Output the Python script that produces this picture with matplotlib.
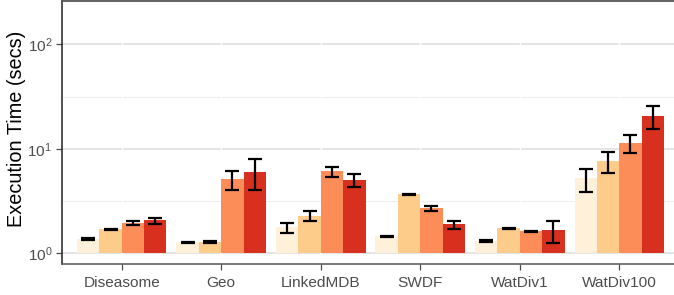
import matplotlib
matplotlib.use("Agg")
import matplotlib.pyplot as plt
import numpy as np

plt.rcParams['font.family'] = ['Liberation Sans', 'DejaVu Sans']
plt.rcParams['mathtext.fontset'] = 'custom'
plt.rcParams['mathtext.rm'] = 'Liberation Sans'
plt.rcParams['mathtext.it'] = 'Liberation Sans'

categories = ["Diseasome", "Geo", "LinkedMDB", "SWDF", "WatDiv1", "WatDiv100"]
series_names = ["s1", "s2", "s3", "s4"]
colors = ["#FEF0D9", "#FDCC8A", "#FC8D59", "#D7301F"]

# mean values per series (one value per category)
means = [
    [1.36, 1.27, 1.76, 1.45, 1.30, 5.22],
    [1.69, 1.28, 2.26, 3.67, 1.73, 7.59],
    [1.94, 5.11, 6.09, 2.70, 1.62, 11.3],
    [2.07, 5.96, 5.00, 1.90, 1.66, 20.5],
]
lows = [
    [1.33, 1.25, 1.57, 1.42, 1.28, 3.89],
    [1.67, 1.24, 2.01, 3.63, 1.71, 5.87],
    [1.87, 4.01, 5.34, 2.54, 1.60, 9.12],
    [1.91, 4.01, 4.31, 1.70, 1.24, 15.3],
]
highs = [
    [1.38, 1.29, 1.92, 1.47, 1.32, 6.41],
    [1.71, 1.31, 2.51, 3.70, 1.75, 9.26],
    [2.01, 6.18, 6.65, 2.80, 1.64, 13.5],
    [2.18, 7.94, 5.74, 2.04, 2.04, 25.7],
]
ytick_vals = [1, 10, 100]
ytick_labels = [r"$\mathregular{10^{0}}$", r"$\mathregular{10^{1}}$", r"$\mathregular{10^{2}}$"]

W, H = 674, 295
fig = plt.figure(figsize=(W / 100, H / 100), dpi=100)
ax = fig.add_axes([62 / W, 1 - 264 / H, 617 / W, 263.5 / H])

x = np.arange(1, len(categories) + 1)
bw = 0.225
for i in range(4):
    xi = x + (i - 1.5) * bw
    m = np.array(means[i])
    ax.bar(xi, m - 1, bottom=1, width=bw, color=colors[i], zorder=3, linewidth=0)
    ax.errorbar(xi, m, yerr=[m - np.array(lows[i]), np.array(highs[i]) - m],
                fmt='none', ecolor='black', elinewidth=1.6, capsize=5, capthick=1.6, zorder=4)

ax.set_yscale('log')
ax.set_ylim(10 ** (-0.105), 10 ** 2.421)
ax.set_xlim(0.4, 6.6)

ax.set_yticks(ytick_vals)
ax.set_yticklabels(ytick_labels)
ax.yaxis.set_minor_locator(matplotlib.ticker.NullLocator())
ax.set_xticks(x)
ax.set_xticklabels(categories)

# gridlines
for v in ytick_vals:
    ax.axhline(v, color='#DCDCDC', lw=1.1, zorder=1)
for v in [10 ** 0.5, 10 ** 1.5]:
    ax.axhline(v, color='#EEEEEE', lw=0.8, zorder=1)
for xv in x:
    ax.axvline(xv, color='white', lw=1.0, zorder=2)

ax.tick_params(axis='both', colors='#4D4D4D', labelsize=11.1, length=4, width=0.9)
ax.tick_params(axis='x', pad=4.5)
ax.tick_params(axis='y', pad=3)
for lab in ax.get_xticklabels() + ax.get_yticklabels():
    lab.set_color('#4D4D4D')

ax.spines['left'].set_color('#222222')
ax.spines['left'].set_linewidth(1.1)
ax.spines['bottom'].set_color('#555555')
ax.spines['bottom'].set_linewidth(1.1)
ax.spines['top'].set_color('#555555')
ax.spines['top'].set_linewidth(1.3)
ax.spines['right'].set_visible(False)

ax.set_ylabel("Execution Time (secs)", fontsize=14.3, color='black')
ax.yaxis.set_label_coords(-(62 - 26) / 617, (264 - 128.5) / 263.5)

fig.savefig("out.png", dpi=100)
